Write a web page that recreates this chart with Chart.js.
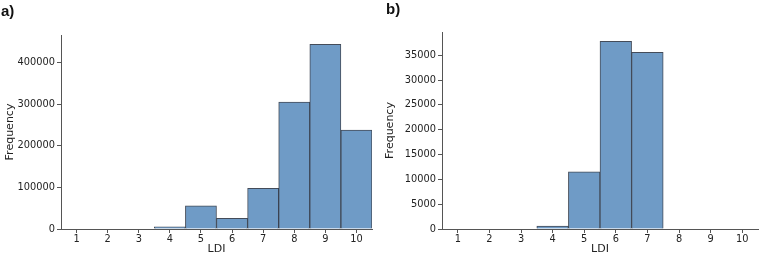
<!DOCTYPE html>
<html>
<head>
<meta charset="utf-8">
<script src="https://cdn.jsdelivr.net/npm/chart.js@4.4.0/dist/chart.umd.min.js"></script>
<style>
  body { margin: 0; background: #fff; }
  #wrap { position: relative; width: 760px; height: 255px; overflow: hidden; }
  canvas { position: absolute; top: 0; }
  .tag { position: absolute; font: bold 15px "Liberation Sans", Arial, sans-serif; color: #111; }
</style>
</head>
<body>
<div id="wrap">
  <canvas id="histA" width="380" height="255" style="left:0"></canvas>
  <canvas id="histB" width="380" height="255" style="left:380px"></canvas>
  <div class="tag" style="left:1px; top:2px">a)</div>
  <div class="tag" style="left:386px; top:0px">b)</div>
</div>
<script>
const ldiBins = ['1', '2', '3', '4', '5', '6', '7', '8', '9', '10'];
const freqA = [0, 0, 0, 5500, 55500, 25500, 98000, 305000, 444000, 238000];
const freqB = [0, 0, 0, 600, 11500, 37800, 35600, 0, 0, 0];
const ticksA = [0, 100000, 200000, 300000, 400000];
const ticksB = [0, 5000, 10000, 15000, 20000, 25000, 30000, 35000];

const tickFont = { family: 'DejaVu Sans', size: 9.8 };
const titleFont = { family: 'DejaVu Sans', size: 11, lineHeight: 1.0 };
const textColor = '#222';
const axisColor = '#555';

function makeHist(id, values, yTicks, pad) {
  const top = Math.max(...values) * 1.05;
  return new Chart(document.getElementById(id), {
    type: 'bar',
    data: {
      labels: ldiBins,
      datasets: [{
        data: values,
        backgroundColor: '#6f9bc6',
        borderColor: 'rgba(35,45,60,0.85)',
        borderWidth: 1,
        barPercentage: 1,
        categoryPercentage: 1
      }]
    },
    options: {
      responsive: false,
      animation: false,
      layout: { padding: pad },
      plugins: { legend: { display: false }, tooltip: { enabled: false } },
      scales: {
        x: {
          offset: true,
          grid: { display: true, drawOnChartArea: false, drawTicks: true, tickLength: 4, color: axisColor, offset: false },
          border: { display: true, color: axisColor, width: 1 },
          ticks: { font: tickFont, color: textColor, padding: 1, maxRotation: 0 },
          title: { display: true, text: 'LDI', font: titleFont, color: textColor, padding: 0 },
          afterFit: s => { s.height = 26; }
        },
        y: {
          min: 0,
          max: top,
          grid: { display: true, drawOnChartArea: false, drawTicks: true, tickLength: 4, color: axisColor },
          border: { display: true, color: axisColor, width: 1 },
          ticks: { font: tickFont, color: textColor, padding: 2, autoSkip: false, callback: v => String(v) },
          title: { display: true, text: 'Frequency', font: titleFont, color: textColor, padding: 5 },
          afterBuildTicks: s => { s.ticks = yTicks.map(v => ({ value: v })); },
          afterFit: s => { s.width = pad.yw; }
        }
      }
    }
  });
}

makeHist('histA', freqA, ticksA, { top: 35, right: 8, left: 0, bottom: 0, yw: 61 });
makeHist('histB', freqB, ticksB, { top: 32, right: 2, left: 0, bottom: 0, yw: 62 });
</script>
</body>
</html>
